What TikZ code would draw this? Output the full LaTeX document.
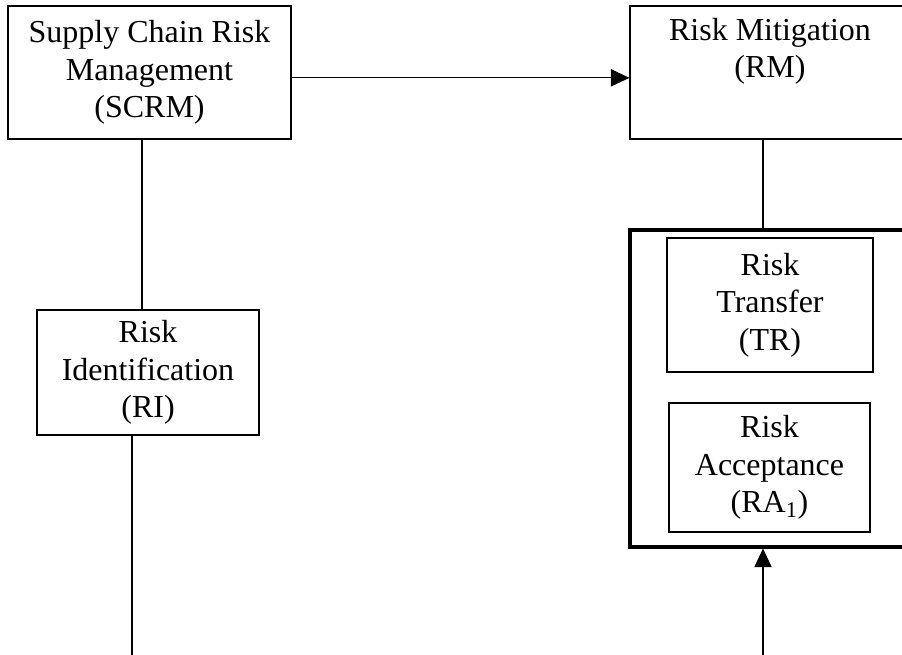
\documentclass[tikz,border=0pt]{standalone}
\usepackage{fontspec}
\setmainfont{Liberation Serif}
\usetikzlibrary{arrows.meta}

\begin{document}
\begin{tikzpicture}[x=0.75pt,y=-0.75pt,line width=0.8pt,
  box/.style={draw,align=center,inner sep=0pt,font=\fontsize{24}{28}\selectfont},
  arr/.style={-{Triangle[length=14pt,width=13pt]}}]
\useasboundingbox (0,0) rectangle (902,655);
% top row
\node [box,minimum width=212.25pt,minimum height=99.75pt] (scrm) at (149.5,72.5) {Supply Chain Risk\\Management\\(SCRM)};
\node [box,minimum width=210pt,minimum height=99.75pt] (rm) at (770,72.5) {Risk Mitigation\\(RM)\\\strut};
% left branch
\node [box,minimum width=166.5pt,minimum height=93.75pt] (ri) at (148,372.5) {Risk\\Identification\\(RI)};
% right branch
\node [draw,line width=2.3pt,minimum width=210pt,minimum height=237.75pt] (mit) at (770,388.5) {};
\node [box,minimum width=154.5pt,minimum height=100.5pt] (tr) at (770,305) {Risk\\Transfer\\(TR)};
\node [box,minimum width=150.75pt,minimum height=96.75pt] (ra) at (769.5,467.5) {Risk\\Acceptance\\(RA\textsubscript{1})};
\coordinate (ritop) at (142,0);
\coordinate (riout) at (132,655);
\coordinate (mitin) at (763,655);
% connectors
\draw [arr] ([yshift=-4pt]scrm.east) -- ([yshift=-4pt]rm.west);
\draw (scrm.south -| ritop) -- (ri.north -| ritop);
\draw (ri.south -| riout) -- (riout);
\draw (rm.south -| mitin) -- (mit.north -| mitin);
\draw [arr] (mitin) -- (mit.south -| mitin);
\end{tikzpicture}
\end{document}
